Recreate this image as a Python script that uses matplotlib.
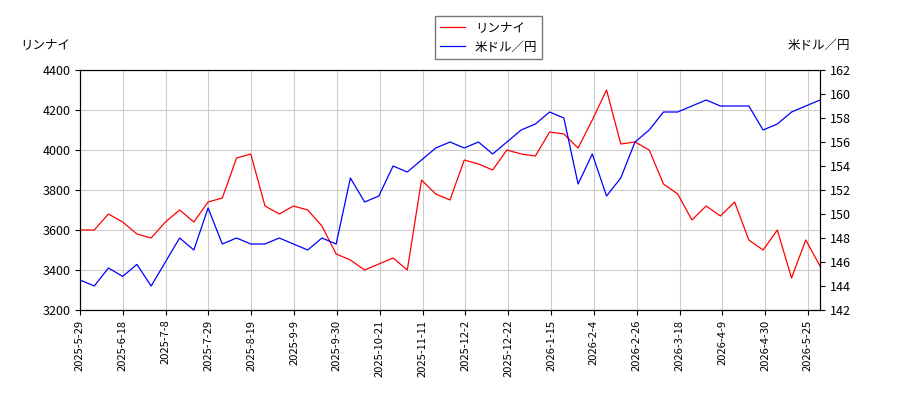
import matplotlib
matplotlib.use("Agg")
import matplotlib.pyplot as plt
import numpy as np

plt.rcParams['font.family'] = ['Noto Sans CJK JP', 'DejaVu Sans']

# weekly samples, plotted on a trading-day style (evenly spaced) axis
rinnai = [3600, 3600, 3680, 3640, 3580, 3560, 3640, 3700, 3640, 3740,
          3760, 3960, 3980, 3720, 3680, 3720, 3700, 3620, 3480, 3450,
          3400, 3430, 3460, 3400, 3850, 3780, 3750, 3950, 3930, 3900,
          4000, 3980, 3970, 4090, 4080, 4010, 4150, 4300, 4030, 4040,
          4000, 3830, 3780, 3650, 3720, 3670, 3740, 3550, 3500, 3600,
          3360, 3550, 3420]
usdjpy = [144.5, 144.0, 145.5, 144.8, 145.8, 144.0, 146.0, 148.0, 147.0, 150.5,
          147.5, 148.0, 147.5, 147.5, 148.0, 147.5, 147.0, 148.0, 147.5, 153.0,
          151.0, 151.5, 154.0, 153.5, 154.5, 155.5, 156.0, 155.5, 156.0, 155.0,
          156.0, 157.0, 157.5, 158.5, 158.0, 152.5, 155.0, 151.5, 153.0, 156.0,
          157.0, 158.5, 158.5, 159.0, 159.5, 159.0, 159.0, 159.0, 157.0, 157.5,
          158.5, 159.0, 159.5]

tick_labels = ["2025-5-29", "2025-6-18", "2025-7-8", "2025-7-29", "2025-8-19",
               "2025-9-9", "2025-9-30", "2025-10-21", "2025-11-11", "2025-12-2",
               "2025-12-22", "2026-1-15", "2026-2-4", "2026-2-26", "2026-3-18",
               "2026-4-9", "2026-4-30", "2026-5-25"]

n = len(rinnai)
x = np.arange(n)
last = n - 1
tick_pos = np.arange(len(tick_labels)) * (last * 728 / 740) / (len(tick_labels) - 1)

fig = plt.figure(figsize=(9, 4), dpi=100)
ax = fig.add_axes([80 / 900, 90 / 400, 740 / 900, 240 / 400])
ax2 = ax.twinx()

l1, = ax.plot(x, rinnai, color='red', lw=0.9, label='リンナイ')
l2, = ax2.plot(x, usdjpy, color='blue', lw=0.9, label='米ドル／円')

ax.set_xlim(0, last)
ax.set_ylim(3200, 4400)
ax.set_yticks(np.arange(3200, 4401, 200))
ax2.set_ylim(142, 162)
ax2.set_yticks(np.arange(142, 163, 2))
ax.set_xticks(tick_pos)
ax.set_xticklabels(tick_labels, rotation=90, fontsize=8)
ax.tick_params(axis='y', labelsize=9)
ax2.tick_params(axis='y', labelsize=9)
ax.grid(True, color='#cccccc', lw=0.8)

fig.text(20 / 900, 1 - 45 / 400, 'リンナイ', fontsize=9, va='center')
fig.text(850 / 900, 1 - 45 / 400, '米ドル／円', fontsize=9, va='center', ha='right')
fig.legend(handles=[l1, l2], loc='upper center', bbox_to_anchor=(0.543, 0.975),
           fontsize=9, fancybox=False, edgecolor='#555555')

fig.savefig('out.png')
